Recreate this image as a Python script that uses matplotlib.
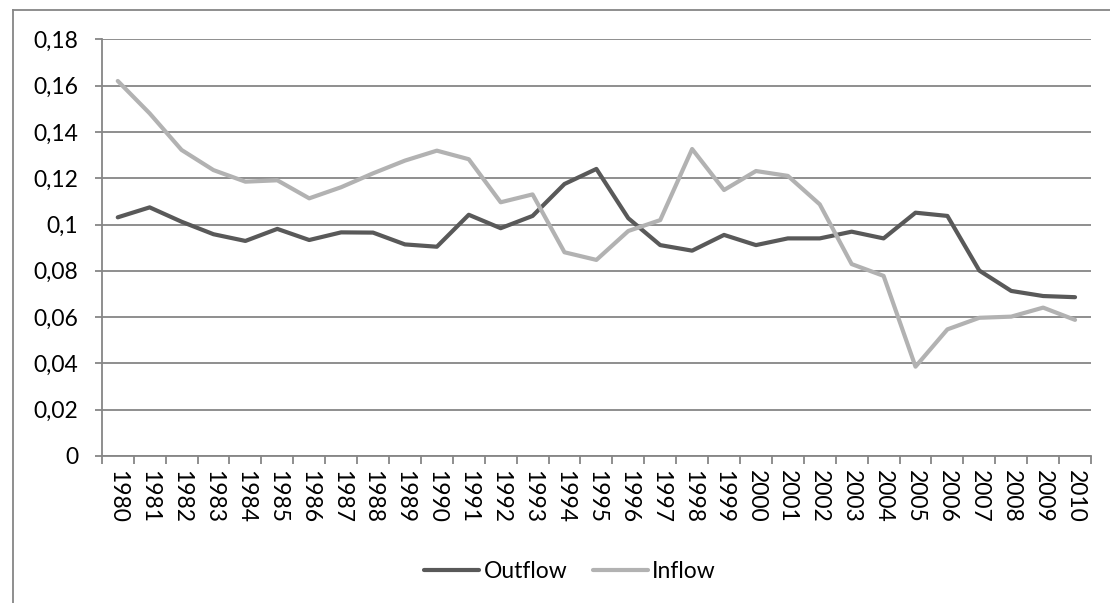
import matplotlib
matplotlib.use("Agg")
import matplotlib.pyplot as plt
from matplotlib.lines import Line2D
from matplotlib.ticker import FuncFormatter, FixedLocator
import numpy as np

years = [str(y) for y in range(1980, 2011)]
outflow = [0.1031, 0.1074, 0.1012, 0.0958, 0.0929, 0.0981, 0.0933, 0.0966, 0.0965, 0.0914,
           0.0904, 0.1042, 0.0984, 0.1037, 0.1175, 0.1240, 0.1027, 0.0911, 0.0887, 0.0955,
           0.0911, 0.0940, 0.0940, 0.0969, 0.0940, 0.1051, 0.1037, 0.0801, 0.0713, 0.0691,
           0.0686]
inflow = [0.1620, 0.1480, 0.1322, 0.1235, 0.1185, 0.1191, 0.1113, 0.1161, 0.1221, 0.1276,
          0.1319, 0.1282, 0.1096, 0.1130, 0.0880, 0.0847, 0.0972, 0.1019, 0.1326, 0.1149,
          0.1231, 0.1210, 0.1087, 0.0829, 0.0778, 0.0386, 0.0547, 0.0597, 0.0602, 0.0641,
          0.0588]
y_ticks = [0, 0.02, 0.04, 0.06, 0.08, 0.1, 0.12, 0.14, 0.16, 0.18]

grid_col = "#868686"
fs = 16.5
plt.rcParams["font.family"] = ["Lato", "DejaVu Sans"]

fig = plt.figure(figsize=(11.1, 6.03), dpi=100)
W, H = 1110, 603
ax = fig.add_axes([101.8 / W, 1 - 456 / H, (1091 - 101.8) / W, (456 - 39.3) / H])

x = np.arange(len(years))
ax.plot(x, outflow, color="#595959", lw=3.0, label="Outflow", solid_capstyle="round",
        solid_joinstyle="round", zorder=3)
ax.plot(x, inflow, color="#b2b2b2", lw=3.0, label="Inflow", solid_capstyle="round",
        solid_joinstyle="round", zorder=3)

ax.set_xlim(-0.5, len(years) - 0.5)
ax.set_ylim(0, 0.18)
ax.set_yticks(y_ticks)
ax.yaxis.set_major_formatter(FuncFormatter(lambda v, p: f"{v:g}".replace(".", ",")))
ax.yaxis.grid(True, color=grid_col, lw=1.3)
ax.set_axisbelow(True)

# category axis: ticks between categories, labels at centres
ax.xaxis.set_major_locator(FixedLocator(np.arange(len(years) + 1) - 0.5))
ax.xaxis.set_major_formatter(FuncFormatter(lambda v, p: ""))
ax.xaxis.set_minor_locator(FixedLocator(x))
ax.set_xticklabels(years, minor=True, rotation=270)
ax.tick_params(axis="x", which="major", length=6, width=1.3, color=grid_col)
ax.tick_params(axis="x", which="minor", length=0, pad=10, labelsize=fs)
ax.tick_params(axis="y", length=5, width=1.3, color=grid_col, pad=12, labelsize=fs)

for side in ["top", "right"]:
    ax.spines[side].set_visible(False)
for side in ["left", "bottom"]:
    ax.spines[side].set_color(grid_col)
    ax.spines[side].set_linewidth(1.3)

fig.legend(loc="center", bbox_to_anchor=(570 / W, 1 - 572 / H), ncol=2, frameon=False,
           fontsize=fs, handlelength=2.4, handletextpad=0.2, columnspacing=1.1)

# outer chart frame (cropped at right and bottom)
fx, fy = 13.2 / W, 1 - 9.7 / H
fig.add_artist(Line2D([fx, fx], [0, fy], color=grid_col, lw=1.3, transform=fig.transFigure))
fig.add_artist(Line2D([fx, 1], [fy, fy], color=grid_col, lw=1.3, transform=fig.transFigure))

fig.savefig("out.png", dpi=100)
